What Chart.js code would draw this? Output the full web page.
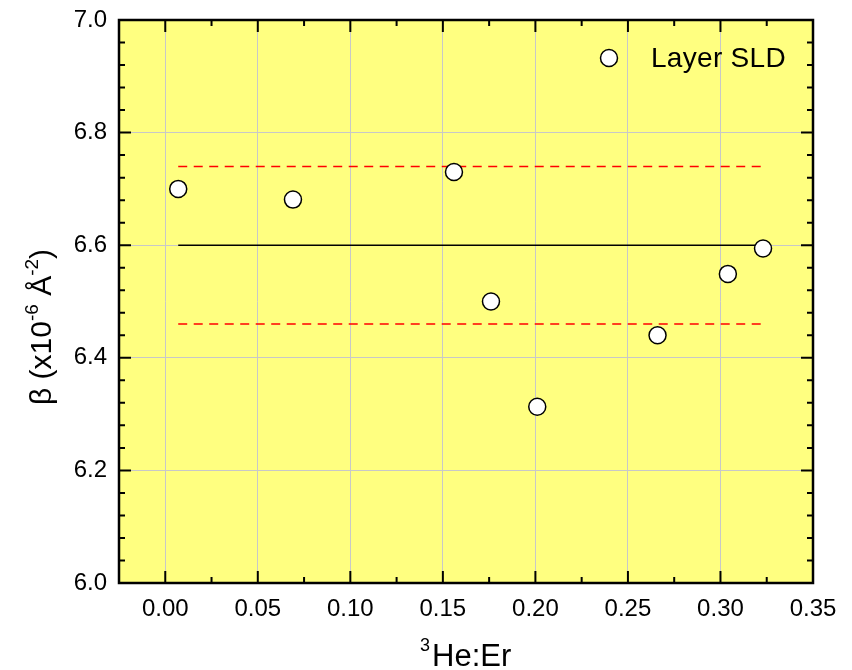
<!DOCTYPE html>
<html>
<head>
<meta charset="utf-8">
<script src="https://cdn.jsdelivr.net/npm/chart.js@4/dist/chart.umd.min.js"></script>
<style>
  html, body { margin: 0; padding: 0; background: #fff; }
  #wrap { width: 852px; height: 670px; position: relative; }
</style>
</head>
<body>
<div id="wrap"><canvas id="chart" width="852" height="670"></canvas></div>
<script>
// values
const heRatio = [0.007, 0.069, 0.156, 0.176, 0.201, 0.266, 0.304, 0.323];
const layerSld = [6.700, 6.681, 6.730, 6.500, 6.313, 6.440, 6.549, 6.594];
const meanSld = 6.60;
const upperSld = 6.74;
const lowerSld = 6.46;
const xTicks = [0.00, 0.05, 0.10, 0.15, 0.20, 0.25, 0.30, 0.35];
const yTicks = [6.0, 6.2, 6.4, 6.6, 6.8, 7.0];
const legendLabel = 'Layer SLD';

const FONT = '"Liberation Sans", Arial, sans-serif';
const xFrom = heRatio[0], xTo = heRatio[heRatio.length - 1];

function hline(y) {
    return [{x: xFrom, y}, {x: xTo, y}];
}

// frame, inward ticks on all four sides, background, legend, axis titles
const decor = {
    id: 'decor',
    beforeDraw(chart) {
        const {ctx, chartArea: a} = chart;
        ctx.save();
        ctx.fillStyle = '#ffff80';
        ctx.fillRect(a.left, a.top, a.right - a.left, a.bottom - a.top);
        ctx.restore();
    },
    afterDraw(chart) {
        const {ctx, chartArea: a, scales} = chart;
        const xs = scales.x, ys = scales.y;
        ctx.save();
        ctx.strokeStyle = '#000';
        ctx.lineWidth = 2;
        ctx.beginPath();
        // x ticks: major every 0.05, minor in between
        for (let i = 0; i < xTicks.length; i++) {
            const v = xTicks[i];
            const px = xs.getPixelForValue(v);
            ctx.moveTo(px, a.bottom); ctx.lineTo(px, a.bottom - 12);
            ctx.moveTo(px, a.top); ctx.lineTo(px, a.top + 12);
            const m = xs.getPixelForValue(v - 0.025);
            if (m > a.left) {
                ctx.moveTo(m, a.bottom); ctx.lineTo(m, a.bottom - 6);
                ctx.moveTo(m, a.top); ctx.lineTo(m, a.top + 6);
            }
        }
        // y ticks: major every 0.2, four minors between
        for (let i = 0; i < yTicks.length; i++) {
            const py = ys.getPixelForValue(yTicks[i]);
            ctx.moveTo(a.left, py); ctx.lineTo(a.left + 12, py);
            ctx.moveTo(a.right, py); ctx.lineTo(a.right - 12, py);
            if (i < yTicks.length - 1) {
                for (let k = 1; k < 5; k++) {
                    const m = ys.getPixelForValue(yTicks[i] + k * 0.04);
                    ctx.moveTo(a.left, m); ctx.lineTo(a.left + 6, m);
                    ctx.moveTo(a.right, m); ctx.lineTo(a.right - 6, m);
                }
            }
        }
        ctx.stroke();
        ctx.lineWidth = 2.5;
        ctx.strokeRect(a.left, a.top, a.right - a.left, a.bottom - a.top);

        // legend
        const lx = a.right - 204, ly = a.top + 38;
        ctx.beginPath();
        ctx.arc(lx, ly, 8.5, 0, Math.PI * 2);
        ctx.fillStyle = '#fff';
        ctx.fill();
        ctx.lineWidth = 1.5;
        ctx.stroke();
        ctx.fillStyle = '#000';
        ctx.font = '28px ' + FONT;
        ctx.textBaseline = 'middle';
        ctx.letterSpacing = '0.3px';
        ctx.fillText(legendLabel, lx + 42, ly + 1);
        ctx.letterSpacing = '0px';

        // x title: superscript 3 + He:Er
        ctx.textBaseline = 'alphabetic';
        ctx.font = '18px ' + FONT;
        ctx.fillText('3', 420, 651);
        ctx.font = '31px ' + FONT;
        ctx.fillText('He:Er', 432, 666);

        // y title, rotated
        ctx.translate(51, 327);
        ctx.rotate(-Math.PI / 2);
        const parts = [
            ['β (x10', 30, 0], ['-6', 19, -13], [' Å', 30, 0], ['-2', 19, -13], [')', 30, 0]
        ];
        let total = 0;
        for (const [t, s] of parts) { ctx.font = s + 'px ' + FONT; total += ctx.measureText(t).width; }
        let cx = -total / 2;
        for (const [t, s, dy] of parts) {
            ctx.font = s + 'px ' + FONT;
            ctx.fillText(t, cx, dy);
            cx += ctx.measureText(t).width;
        }
        ctx.restore();
    }
};

function noPad(s) {
    s.paddingTop = 0; s.paddingBottom = 0; s.paddingLeft = 0; s.paddingRight = 0;
}

new Chart(document.getElementById('chart'), {
    type: 'scatter',
    data: {
        datasets: [
            {label: legendLabel, data: heRatio.map((x, i) => ({x, y: layerSld[i]})),
             pointRadius: 8.5, pointBackgroundColor: '#fff', pointBorderColor: '#000',
             pointBorderWidth: 1.5, order: 0},
            {label: 'mean', data: hline(meanSld), showLine: true, pointRadius: 0,
             borderColor: '#000', borderWidth: 1.5, order: 1},
            {label: 'upper', data: hline(upperSld), showLine: true, pointRadius: 0,
             borderColor: '#ff0000', borderWidth: 1.5, borderDash: [9, 6.5], order: 1},
            {label: 'lower', data: hline(lowerSld), showLine: true, pointRadius: 0,
             borderColor: '#ff0000', borderWidth: 1.5, borderDash: [9, 6.5], order: 1}
        ]
    },
    options: {
        responsive: false,
        animation: false,
        events: [],
        layout: {padding: {top: 20, right: 39, left: 0, bottom: 0}},
        scales: {
            x: {
                type: 'linear', min: -0.025, max: 0.35,
                afterBuildTicks: s => { s.ticks = xTicks.map(value => ({value})); },
                afterFit: s => { s.height = 87; noPad(s); },
                grid: {color: '#c8c8c8', lineWidth: 1, drawTicks: false},
                border: {display: false},
                ticks: {color: '#000', font: {family: FONT, size: 24}, padding: 12,
                        maxRotation: 0, callback: v => v.toFixed(2)}
            },
            y: {
                type: 'linear', min: 6.0, max: 7.0,
                afterBuildTicks: s => { s.ticks = yTicks.map(value => ({value})); },
                afterFit: s => { s.width = 119; noPad(s); },
                grid: {color: '#c8c8c8', lineWidth: 1, drawTicks: false},
                border: {display: false},
                ticks: {color: '#000', font: {family: FONT, size: 24}, padding: 12,
                        callback: v => v.toFixed(1)}
            }
        },
        plugins: {legend: {display: false}, tooltip: {enabled: false}}
    },
    plugins: [decor]
});
</script>
</body>
</html>
